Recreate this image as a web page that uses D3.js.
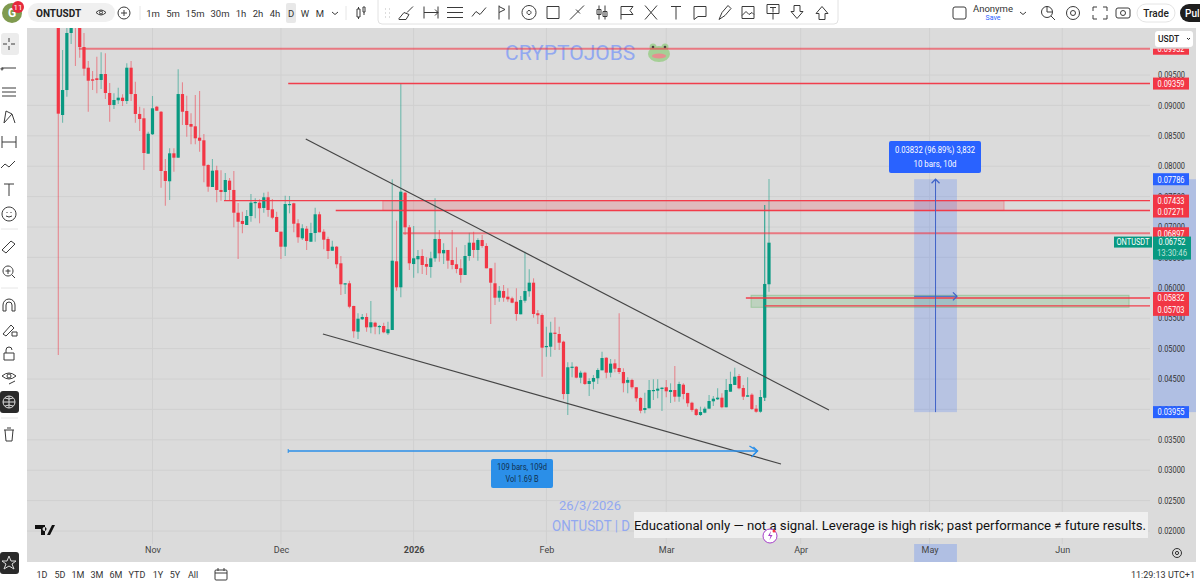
<!DOCTYPE html>
<html>
<head>
<meta charset="utf-8">
<title>ONTUSDT</title>
<script src="https://cdn.jsdelivr.net/npm/d3@7"></script>
<style>
  html, body { margin: 0; padding: 0; background: #fff; overflow: hidden; }
  text { font-family: Roboto, "Liberation Sans", sans-serif; }
</style>
</head>
<body>
<div id="chart"></div>
<script>
// prices are kept in ticks, 1 tick = 0.00001
const tickSize = 0.00001;

const opens = [10322,8842,9253,10191,10569,10405,9960,9620,9429,9446,9418,9516,9204,9007,9084,9127,9072,9620,9187,8859,8788,8206,8525,8979,8896,7921,7752,8212,8140,9187,8908,8694,8656,8469,8426,8020,7658,7933,7609,7576,7762,7609,7235,7099,7033,7181,7395,7400,7313,7489,7291,7165,6923,6676,7367,7390,7061,6814,6972,6758,6901,7209,6923,6803,6610,6676,6403,6063,6074,5701,5278,5482,5520,5350,5426,5360,5372,5252,5306,6436,6008,7564,6995,6391,6469,6523,6391,6342,6485,6803,6567,6622,6457,6387,6321,6211,6523,6742,6622,6786,6688,6321,6074,5837,5947,5854,5827,5771,5564,5788,5943,6084,5581,5553,5031,5031,5262,5240,5114,4253,4686,4702,4522,4604,4418,4456,4512,4643,4850,4604,4758,4681,4615,4439,4484,4364,4188,3990,4018,4308,4308,4336,4364,4286,4319,4209,4406,4270,4110,4002,3908,3946,4012,4133,4166,4193,4035,4291,4402,4549,4352,4209,4242,4012,3962,4192,6058];
const highs = [10405,9911,10405,10500,10600,10500,10191,9730,9566,9801,9873,9857,9368,9199,9291,9183,9692,9730,9390,8979,8952,8567,9155,8990,8908,8118,8294,8294,9594,9380,9160,8870,9171,9237,8530,8031,8118,8008,7933,7888,7806,7921,7395,7252,7280,7543,7472,7456,7564,7581,7461,7252,6923,7515,7510,7400,7127,7044,7017,7071,7318,7252,6962,6841,6775,6688,6523,6079,6117,5706,5581,5569,5581,5783,5443,5388,5426,5443,7785,7104,9352,7581,7033,7017,6622,6633,6502,6594,7472,6951,6732,6622,6951,6666,6469,6704,6906,6923,6814,6869,6732,6321,6413,6030,6046,5992,5854,5992,5865,6594,6304,6156,5635,5581,5360,5443,5515,5360,5130,4775,4775,4714,4637,4620,4512,4566,4676,4949,4857,4829,4824,5581,4676,4528,4505,4364,4199,4275,4484,4495,4495,4364,4484,4429,4714,4456,4429,4275,4127,4018,4045,4045,4237,4221,4347,4265,4500,4620,4686,4582,4402,4528,4265,4072,4319,7362,7789];
const lows = [4895,8715,9143,10010,9648,9785,9488,8896,9253,9199,9270,9105,8732,8941,9023,8990,9023,9072,8715,8579,7938,8206,8513,8908,7646,7351,7444,7910,8140,8678,8485,8360,8360,8239,7735,7581,7658,7406,7433,7433,7433,6995,6474,6896,7033,7087,7143,7061,7235,7170,7127,6918,6474,6523,7225,6913,6742,6786,6622,6758,6758,6913,6633,6474,6610,6321,5882,5898,5663,5179,5158,5470,5278,5252,5235,5235,5252,5224,5306,5952,5844,6869,6293,6166,6239,6227,6211,6166,6429,6429,6391,6314,6304,6239,6084,6211,6446,6495,6446,6660,6321,5405,5717,5771,5771,5771,5745,5459,5564,5755,5854,5508,5405,4538,4867,4867,4977,4977,4166,3908,4528,4512,4429,4402,4221,4331,4418,4643,4512,4528,4610,4582,4281,4265,4331,4127,3936,3936,4018,4155,4183,3974,4199,4106,4127,4127,4166,4045,3962,3892,3892,3936,4012,4056,4155,4018,4035,4291,4402,4331,4155,4209,3990,3946,3946,4138,5936];
const closes = [8864,9253,10191,10405,10372,9960,9604,9406,9406,9418,9516,9204,9007,9089,9127,9072,9620,9187,8859,8776,8217,8534,8952,8913,7921,7757,8212,8140,9187,8896,8678,8650,8459,8419,8008,7663,7926,7609,7576,7773,7609,7235,7087,7050,7181,7400,7411,7308,7489,7280,7153,6918,6676,7378,7378,7054,6831,6979,6770,6901,7209,6913,6791,6605,6676,6387,6058,6074,5689,5285,5492,5520,5350,5433,5360,5372,5268,5318,6446,6008,7581,6995,6403,6485,6523,6375,6347,6485,6803,6567,6622,6446,6375,6309,6211,6523,6742,6622,6786,6688,6321,6084,5837,5952,5837,5811,5755,5569,5799,5947,6084,5569,5548,5015,5043,5262,5252,5097,4253,4693,4702,4522,4604,4418,4467,4517,4648,4845,4604,4752,4669,4615,4430,4484,4364,4183,3979,4023,4319,4319,4341,4357,4298,4319,4209,4418,4253,4101,3990,3908,3957,4012,4138,4176,4193,4035,4319,4418,4538,4347,4209,4232,4007,3962,4204,6063,6742];

// month starts on the time axis, in bar numbers (first bar is 10 Oct)
const monthBars = [22, 52, 83, 114, 142, 173.4, 203.5, 234.5];
const monthLabels = ["Nov", "Dec", "2026", "Feb", "Mar", "Apr", "May", "Jun"];

const levelPrices = [0.09932, 0.09359, 0.07433, 0.07271, 0.06897, 0.05832, 0.05703];
const levelStartBars = [4.8, 53.7, 38.7, 64.8, 80.5, 160.6, 165];
const levelPale = [true, false, false, false, true, false, false];

const upperTrend = [[57.8, 0.08447], [180, 0.0399]];
const lowerTrend = [[61.8, 0.0524], [168.8, 0.03102]];

const width = 1200;
const height = 585;
const plotLeft = 27, plotRight = 1150, plotTop = 28, plotBottom = 544, paneBottom = 562, paneRight = 1196;

const red = "#f23645", green = "#089981", blue = "#2962ff", wm = "#92a8f0";

const x = d3.scaleLinear().domain([0, 166]).range([58.3, 769]);
const y = d3.scaleLinear().domain([0.02, 0.095]).range([531, 75]);

const svg = d3.select("#chart").append("svg")
    .attr("width", width)
    .attr("height", height)
    .style("display", "block");

svg.append("rect").attr("x", plotLeft).attr("y", plotTop)
    .attr("width", paneRight - plotLeft).attr("height", paneBottom - plotTop)
    .attr("fill", "#dbdbdb");

const defs = svg.append("defs");
defs.append("clipPath").attr("id", "plot").append("rect")
    .attr("x", plotLeft).attr("y", plotTop)
    .attr("width", plotRight - plotLeft).attr("height", plotBottom - plotTop);

const priceTicks = d3.range(4, 20).map(d => d * 0.005);

const plot = svg.append("g").attr("clip-path", "url(#plot)");

// grid
plot.selectAll(".hgrid").data(priceTicks).enter().append("line")
    .attr("x1", plotLeft).attr("x2", plotRight)
    .attr("y1", d => y(d)).attr("y2", d => y(d))
    .attr("stroke", "#d0d0d0");
plot.selectAll(".vgrid").data(monthBars).enter().append("line")
    .attr("x1", d => x(d)).attr("x2", d => x(d))
    .attr("y1", plotTop).attr("y2", plotBottom)
    .attr("stroke", "#d0d0d0");

// watermarks
plot.append("text").attr("x", 505).attr("y", 60).attr("font-size", 21).attr("fill", wm)
    .text("CRYPTOJOBS");
const frog = plot.append("g").attr("transform", "translate(659,53)");
frog.append("ellipse").attr("rx", 11).attr("ry", 8).attr("cy", 1).attr("fill", "#a5cf96");
frog.append("circle").attr("cx", -6).attr("cy", -6).attr("r", 3.5).attr("fill", "#a5cf96");
frog.append("circle").attr("cx", 6).attr("cy", -6).attr("r", 3.5).attr("fill", "#a5cf96");
frog.append("circle").attr("cx", -6).attr("cy", -6).attr("r", 1.3).attr("fill", "#444");
frog.append("circle").attr("cx", 6).attr("cy", -6).attr("r", 1.3).attr("fill", "#444");
frog.append("ellipse").attr("rx", 7).attr("ry", 2.5).attr("cy", 3).attr("fill", "#e58f8f");
plot.append("text").attr("x", 590).attr("y", 510).attr("text-anchor", "middle")
    .attr("font-size", 13).attr("fill", wm).text("26/3/2026");
plot.append("text").attr("x", 552).attr("y", 531).attr("font-size", 14).attr("fill", wm)
    .attr("textLength", 78).attr("lengthAdjust", "spacingAndGlyphs")
    .text("ONTUSDT | D");

// zones behind the candles
const longBars = [199.9, 209.9];
plot.append("rect").attr("x", x(longBars[0])).attr("width", x(longBars[1]) - x(longBars[0]))
    .attr("y", y(0.07786)).attr("height", y(0.03955) - y(0.07786))
    .attr("fill", blue).attr("fill-opacity", 0.2);

const zones = [
  { bars: [75.8, 220.9], prices: [0.07433, 0.07271], color: red, op: 0.2 },
  { bars: [161.8, 250.1], prices: [0.05877, 0.05679], color: "#4caf50", op: 0.2 }
];
plot.selectAll(".zone").data(zones).enter().append("rect")
    .attr("x", d => x(d.bars[0]))
    .attr("width", d => x(d.bars[1]) - x(d.bars[0]))
    .attr("y", d => y(d.prices[0]))
    .attr("height", d => y(d.prices[1]) - y(d.prices[0]))
    .attr("fill", d => d.color).attr("fill-opacity", d => d.op)
    .attr("stroke", d => d.color).attr("stroke-opacity", 0.35);

// candles
const bars = d3.range(opens.length);
const isUp = i => closes[i] >= opens[i];

plot.selectAll(".wick").data(bars).enter().append("line")
    .attr("x1", i => x(i)).attr("x2", i => x(i))
    .attr("y1", i => y(highs[i] * tickSize))
    .attr("y2", i => y(lows[i] * tickSize))
    .attr("stroke", i => isUp(i) ? green : red)
    .attr("stroke-opacity", i => i === 165 ? 0.85 : 0.5)
    .attr("stroke-width", 1.1);

plot.selectAll(".body").data(bars).enter().append("rect")
    .attr("x", i => x(i) - 1.6)
    .attr("width", 3.2)
    .attr("y", i => y(Math.max(opens[i], closes[i]) * tickSize))
    .attr("height", i => Math.max(1.2, Math.abs(y(opens[i] * tickSize) - y(closes[i] * tickSize))))
    .attr("fill", i => isUp(i) ? green : red);

// horizontal levels
plot.selectAll(".level").data(levelPrices).enter().append("line")
    .attr("x1", (d, i) => x(levelStartBars[i]))
    .attr("x2", plotRight)
    .attr("y1", d => y(d)).attr("y2", d => y(d))
    .attr("stroke", red)
    .attr("stroke-width", (d, i) => levelPale[i] ? 2 : 1.4)
    .attr("stroke-opacity", (d, i) => levelPale[i] ? 0.6 : 0.95);

// trend lines
[upperTrend, lowerTrend].forEach(t => {
  plot.append("line")
      .attr("x1", x(t[0][0])).attr("y1", y(t[0][1]))
      .attr("x2", x(t[1][0])).attr("y2", y(t[1][1]))
      .attr("stroke", "#454545").attr("stroke-width", 1.2);
});

// measure arrows
function arrowHead(g, px, py, dir, color) {
  const s = 4;
  const p = dir === "right"
    ? `M${px - s},${py - s}L${px},${py}L${px - s},${py + s}`
    : `M${px - s},${py + s}L${px},${py}L${px + s},${py + s}`;
  g.append("path").attr("d", p).attr("fill", "none").attr("stroke", color).attr("stroke-width", 1.2);
}

const longX = x((longBars[0] + longBars[1]) / 2);
plot.append("line").attr("x1", longX).attr("x2", longX).attr("y1", y(0.03955)).attr("y2", y(0.07786))
    .attr("stroke", "#3f63c8").attr("stroke-width", 1);
arrowHead(plot, longX, y(0.07786), "up", "#3f63c8");
const midY = y(0.0586);
plot.append("line").attr("x1", x(longBars[0])).attr("x2", x(longBars[1])).attr("y1", midY).attr("y2", midY)
    .attr("stroke", "#3f63c8").attr("stroke-width", 1);
arrowHead(plot, x(longBars[1]), midY, "right", "#3f63c8");

const rangeY = y(0.03316);
plot.append("line").attr("x1", x(53.7)).attr("x2", x(163.3)).attr("y1", rangeY).attr("y2", rangeY)
    .attr("stroke", "#2b8fe8").attr("stroke-width", 1.6);
plot.append("line").attr("x1", x(53.7)).attr("x2", x(53.7)).attr("y1", rangeY - 2).attr("y2", rangeY + 2)
    .attr("stroke", "#2b8fe8");
arrowHead(plot, x(163.3), rangeY, "right", "#2b8fe8");
plot.append("path")
    .attr("d", `M${x(163.3) - 8},${rangeY - 5}L${x(163.3)},${rangeY}L${x(163.3) - 6},${rangeY + 6}`)
    .attr("fill", "none").attr("stroke", "#2b8fe8").attr("stroke-width", 1.4);

function tooltip(bx, by, w, h, fill, color, lines, lineWidths) {
  plot.append("rect").attr("x", bx).attr("y", by).attr("width", w).attr("height", h)
      .attr("rx", 2).attr("fill", fill);
  lines.forEach((t, i) => {
    plot.append("text").attr("x", bx + w / 2).attr("y", by + h * (i === 0 ? 0.38 : 0.8))
        .attr("text-anchor", "middle").attr("font-size", 8.5).attr("fill", color)
        .attr("textLength", lineWidths[i]).attr("lengthAdjust", "spacingAndGlyphs").text(t);
  });
}
tooltip(889, 141, 92, 32, blue, "#fff", ["0.03832 (96.89%) 3,832", "10 bars, 10d"], [80, 43]);
tooltip(491, 459, 62, 29, "#2b8fe8", "#10304f", ["109 bars, 109d", "Vol 1.69 B"], [50, 33]);

// disclaimer
plot.append("rect").attr("x", 634).attr("y", 512).attr("width", 514).attr("height", 26)
    .attr("fill", "#efefef");
plot.append("text").attr("x", 634).attr("y", 530)
    .attr("font-size", 13.4).attr("fill", "#111")
    .attr("textLength", 512).attr("lengthAdjust", "spacingAndGlyphs")
    .text("Educational only — not a signal. Leverage is high risk; past performance ≠ future results.");

// TradingView logo
plot.append("path").attr("d", "M35,525h10v10h-4v-6h-6zM47,535l5,-10h3l-5,10zM44.500,527a2,2 0 1 0 .01,0")
    .attr("fill", "#111");

// axes
svg.append("rect").attr("x", 1153).attr("y", y(0.07786))
    .attr("width", paneRight - 1153).attr("height", y(0.03955) - y(0.07786))
    .attr("fill", "#b0bfe3");
svg.append("rect").attr("x", x(longBars[0])).attr("y", plotBottom)
    .attr("width", x(longBars[1]) - x(longBars[0])).attr("height", paneBottom - plotBottom)
    .attr("fill", "#b0bfe3");

const priceAxis = d3.axisRight(y).tickValues(priceTicks).tickSize(0).tickPadding(0)
    .tickFormat(d3.format(".5f"));
const priceG = svg.append("g").attr("transform", "translate(1158,0)").call(priceAxis);
priceG.select(".domain").remove();
priceG.selectAll("text").attr("font-size", 8.5).attr("fill", "#333").attr("font-family", "Roboto")
    .attr("textLength", 27).attr("lengthAdjust", "spacingAndGlyphs");

const timeAxis = d3.axisBottom(x).tickValues(monthBars).tickSize(0).tickPadding(0)
    .tickFormat((d, i) => monthLabels[i]);
const timeG = svg.append("g").attr("transform", "translate(0,547)").call(timeAxis);
timeG.select(".domain").remove();
timeG.selectAll("text").attr("font-size", 9).attr("fill", "#444").attr("font-family", "Roboto");
timeG.selectAll("text").filter((d, i) => monthLabels[i] === "2026").attr("font-weight", 700);

// price labels, the ones that would collide are pushed apart on the scale
function priceLabel(price, fill, shift) {
  const py = y(price) + (shift || 0);
  const g = svg.append("g");
  g.append("rect").attr("x", 1153).attr("y", py - 6).attr("width", 36).attr("height", 12).attr("fill", fill);
  g.append("text").attr("x", 1171).attr("y", py + 3.3).attr("text-anchor", "middle")
      .attr("font-size", 8.5).attr("fill", "#fff")
      .attr("textLength", 27).attr("lengthAdjust", "spacingAndGlyphs").text(price.toFixed(5));
}
defs.append("clipPath").attr("id", "topLabel").append("rect")
    .attr("x", 1150).attr("y", y(0.09932)).attr("width", 46).attr("height", 6);
svg.append("rect").attr("x", 1153).attr("y", y(0.09932)).attr("width", 36).attr("height", 6).attr("fill", red);
svg.append("text").attr("clip-path", "url(#topLabel)").attr("x", 1171).attr("y", y(0.09932) + 3.3)
    .attr("text-anchor", "middle").attr("font-size", 8.5).attr("fill", "#fff")
    .attr("textLength", 27).attr("lengthAdjust", "spacingAndGlyphs").text("0.09932");
const labelShifts = [0, 0, 0, 1, 0, 0, 4];
levelPrices.forEach((p, i) => { if (i > 0) priceLabel(p, red, labelShifts[i]); });
priceLabel(0.07786, blue);
priceLabel(0.03955, blue);

// last price
const lastPrice = 0.06752;
svg.append("rect").attr("x", 1114).attr("y", y(lastPrice) - 5.5).attr("width", 38).attr("height", 11).attr("fill", green);
svg.append("text").attr("x", 1133).attr("y", y(lastPrice) + 3).attr("text-anchor", "middle")
    .attr("font-size", 8.5).attr("fill", "#fff")
    .attr("textLength", 33).attr("lengthAdjust", "spacingAndGlyphs").text("ONTUSDT");
svg.append("rect").attr("x", 1153).attr("y", y(lastPrice) - 5.5).attr("width", 38).attr("height", 23).attr("fill", green);
svg.append("text").attr("x", 1172).attr("y", y(lastPrice) + 3).attr("text-anchor", "middle")
    .attr("font-size", 8.5).attr("fill", "#fff")
    .attr("textLength", 27).attr("lengthAdjust", "spacingAndGlyphs").text("0.06752");
svg.append("text").attr("x", 1172).attr("y", y(lastPrice) + 14).attr("text-anchor", "middle")
    .attr("font-size", 8.5).attr("fill", "#bfe3da")
    .attr("textLength", 30).attr("lengthAdjust", "spacingAndGlyphs").text("13:30:46");

// USDT selector
svg.append("rect").attr("x", 1155).attr("y", 31).attr("width", 38).attr("height", 16).attr("rx", 3).attr("fill", "#fff");
svg.append("text").attr("x", 1158).attr("y", 42).attr("font-size", 8.5).attr("font-weight", 500).attr("fill", "#222").text("USDT");
svg.append("path").attr("d", "M1187,38l1.500,1.500l1.500,-1.500").attr("fill", "none").attr("stroke", "#222");

// gear and lightning on the axes
svg.append("circle").attr("cx", 1177).attr("cy", 553).attr("r", 4.5).attr("fill", "none").attr("stroke", "#333");
svg.append("circle").attr("cx", 1177).attr("cy", 553).attr("r", 1.6).attr("fill", "none").attr("stroke", "#333");
svg.append("circle").attr("cx", 770).attr("cy", 536).attr("r", 7).attr("fill", "#fff").attr("stroke", "#a63fc9");
svg.append("path").attr("d", "M771,531l-3,5h2.500l-1,4l3,-5h-2.500z").attr("fill", "#a63fc9");
svg.append("circle").attr("cx", 774).attr("cy", 531).attr("r", 1.5).attr("fill", red);

// ---- app chrome ----
const iconStyle = s => s.attr("fill", "none").attr("stroke", "#3a3a3a").attr("stroke-width", 1);

function ui(tx, ty, size, label, opts) {
  const o = opts || {};
  return svg.append("text").attr("x", tx).attr("y", ty).attr("font-size", size)
      .attr("text-anchor", o.anchor || "middle")
      .attr("font-weight", o.weight || 400)
      .attr("fill", o.fill || "#333").text(label);
}

// top bar
svg.append("circle").attr("cx", 12).attr("cy", 13).attr("r", 10).attr("fill", "#7f9a4f");
ui(12, 17, 12, "G", { fill: "#fff", weight: 700 });
svg.append("circle").attr("cx", 18).attr("cy", 7).attr("r", 6).attr("fill", "#e5293d");
ui(18, 10, 8, "11", { fill: "#fff" });
svg.append("rect").attr("x", 28).attr("y", 3).attr("width", 87).attr("height", 19).attr("rx", 9.5).attr("fill", "#f0f0f0");
ui(36, 17, 10, "ONTUSDT", { anchor: "start", weight: 700, fill: "#222" });
svg.append("path").attr("d", "M96,12.500q5,-5 10,0q-5,5 -10,0zM99.500,12.500a1.500,1.500 0 1 0 3,0a1.500,1.500 0 1 0 -3,0").call(iconStyle);
svg.append("circle").attr("cx", 124).attr("cy", 13).attr("r", 6).call(iconStyle);
svg.append("path").attr("d", "M121,13h6M124,10v6").call(iconStyle);
svg.append("rect").attr("x", 286).attr("y", 3).attr("width", 10).attr("height", 20).attr("rx", 2).attr("fill", "#e8e8e8");

const timeframeLabels = ["1m", "5m", "15m", "30m", "1h", "2h", "4h", "D", "W", "M"];
const timeframeX = [153, 173, 195, 220, 241, 258, 275, 291, 305, 320];
timeframeLabels.forEach((t, i) => ui(timeframeX[i], 17, 9.5, t));
svg.append("path").attr("d", "M332,12l3,2.500l3,-2.500").call(iconStyle);
svg.append("path").attr("d", "M357,9h3v8h-3zM363,7h2v5h-2zM358.500,9v-2M358.500,17v2M364,12v3").call(iconStyle);
svg.append("line").attr("x1", 140).attr("x2", 140).attr("y1", 6).attr("y2", 20).attr("stroke", "#e6e6e6");
svg.append("line").attr("x1", 346).attr("x2", 346).attr("y1", 6).attr("y2", 20).attr("stroke", "#e6e6e6");

// floating drawing toolbar
svg.append("rect").attr("x", 378).attr("y", -4).attr("width", 460).attr("height", 28).attr("rx", 4)
    .attr("fill", "#fff").attr("stroke", "#e2e2e2");
const toolIcons = [
  "M-8,6l5,-6l5,2l-3,5h-7zM0,0l6,-6",
  "M-7,-6v12M7,-6v12M-7,0h14M4,-3l3,3l-3,3",
  "M-8,-5h16M-8,0h16M-8,5h16",
  "M-8,4l4,-5l4,3l6,-7",
  "M-6,-7v14M-6,-6l6,3l-6,3M4,-7v14",
  "M0,-7a7,7 0 1 0 .01,0M0,-2a2,2 0 1 0 .01,0",
  "M-6,-6h12v12h-12z",
  "M-7,7l14,-14M-1,-3l4,4",
  "M-3,-7v14M3,-7v14M-5,-3h4v5h-4zM1,-1h4v5h-4z",
  "M-6,7v-13h12l-3,4l3,4h-12",
  "M-6,-7l12,14M6,-7l-12,14",
  "M-5,-6h10M0,-6v13",
  "M-6,-6h12v10h-8l-4,3z",
  "M-6,7l3,-7l6,-7l3,3l-6,7z",
  "M-6,-6h12v12h-12zM-6,3l4,-4l3,3l3,-2l2,2",
  "M-6,-8h12v9h-12zM0,1v6M-3,-5h6M0,-5v5",
  "M-3,-7h6v6h3l-6,7l-6,-7h3z",
  "M-3,7h6v-6h3l-6,-7l-6,7h3z"
];
const toolX = [407, 431, 455, 480, 505, 529, 553, 577, 602, 627, 651, 676, 700, 725, 748, 773, 797, 822];
toolIcons.forEach((d, i) => {
  svg.append("path").attr("transform", `translate(${toolX[i]},12.500)`).attr("d", d).call(iconStyle);
});
svg.append("path").attr("d", "M385,9h1M389,9h1M385,13h1M389,13h1M385,17h1M389,17h1").attr("stroke", "#bbb").attr("fill", "none");

// top right
svg.append("rect").attr("x", 953).attr("y", 7).attr("width", 13).attr("height", 12).attr("rx", 2).call(iconStyle);
ui(993, 12, 9.5, "Anonyme");
ui(993, 20, 7, "Save", { fill: blue });
svg.append("path").attr("d", "M1020,12l3,2.500l3,-2.500").call(iconStyle);
svg.append("circle").attr("cx", 1047).attr("cy", 12).attr("r", 5.5).call(iconStyle);
svg.append("path").attr("d", "M1051,16l4,4M1047,6v6h5").call(iconStyle);
svg.append("circle").attr("cx", 1073).attr("cy", 13).attr("r", 6.500).call(iconStyle);
svg.append("circle").attr("cx", 1073).attr("cy", 13).attr("r", 2.500).call(iconStyle);
svg.append("path").attr("d", "M1093,11v-4h4M1103,7h4v4M1107,15v4h-4M1097,19h-4v-4").call(iconStyle);
svg.append("rect").attr("x", 1116).attr("y", 8).attr("width", 14).attr("height", 10).attr("rx", 2).call(iconStyle);
svg.append("circle").attr("cx", 1123).attr("cy", 13).attr("r", 2.500).call(iconStyle);
svg.append("rect").attr("x", 1137).attr("y", 4).attr("width", 38).attr("height", 18).attr("rx", 9).attr("fill", "#fff").attr("stroke", "#e4e4e4");
ui(1156, 17, 10, "Trade", { fill: "#222", weight: 500 });
svg.append("rect").attr("x", 1180).attr("y", 4).attr("width", 40).attr("height", 18).attr("rx", 9).attr("fill", "#1e1e1e");
ui(1185, 17, 10, "Pul", { anchor: "start", fill: "#fff", weight: 500 });

// left toolbar
svg.append("rect").attr("x", 1).attr("y", 33).attr("width", 18).attr("height", 22).attr("rx", 3).attr("fill", "#ececec");
const sideIcons = [
  "M-6,0h4M2,0h4M0,-6v4M0,2v4",
  "M-7,1h14M-7,1a1,1 0 1 0 .01,0",
  "M-7,-4h14M-7,0h14M-7,4h14",
  "M-5,6l2,-12l6,3l3,9M-5,6l8,-9",
  "M-7,-6v12M7,-6v12M-7,0h14",
  "M-8,3l4,-4l4,3l6,-6",
  "M-5,-6h10M0,-6v12",
  "M0,-7a7,7 0 1 0 .01,0M-2,-2v1M2,-2v1M-3,2q3,2 6,0",
  "M-7,4l9,-9l4,3l-9,9z",
  "M-1,-6a5,5 0 1 0 .01,0M-1,-3v5M-3.500,-1h5M3,3l3,3",
  "M-6,6v-6a6,6 0 0 1 12,0v6h-3v-6a3,3 0 0 0 -6,0v6z",
  "M-6,5l8,-9l3,3l-8,8zM3,3h5v4h-5z",
  "M-5,-1h10v7h-10zM-3,-1v-3a3,3 0 0 1 6,0",
  "M-7,-2q7,-6 14,0q-7,6 -14,0zM-2,-2a2,2 0 1 0 4,0a2,2 0 1 0 -4,0M0,6l6,-3"
];
const sideY = [44, 67, 92, 117, 142, 165, 190, 214, 246, 272, 305, 329, 354, 378];
sideIcons.forEach((d, i) => {
  svg.append("path").attr("transform", `translate(9,${sideY[i]})`).attr("d", d).call(iconStyle);
});
svg.append("line").attr("x1", 1).attr("x2", 18).attr("y1", 229).attr("y2", 229).attr("stroke", "#e6e6e6");
svg.append("line").attr("x1", 1).attr("x2", 18).attr("y1", 288).attr("y2", 288).attr("stroke", "#e6e6e6");
svg.append("line").attr("x1", 1).attr("x2", 18).attr("y1", 418).attr("y2", 418).attr("stroke", "#e6e6e6");
svg.append("rect").attr("x", 0).attr("y", 391).attr("width", 19).attr("height", 22).attr("rx", 3).attr("fill", "#2a2a2a");
svg.append("circle").attr("cx", 9).attr("cy", 402).attr("r", 6).attr("fill", "none").attr("stroke", "#ddd");
svg.append("path").attr("d", "M3,402h12M9,396v12M5,398q4,2 8,0M5,406q4,-2 8,0").attr("fill", "none").attr("stroke", "#ddd");
svg.append("path").attr("transform", "translate(9,435)").attr("d", "M-5,-5h10M-4,-5l1,11h6l1,-11M-2,-7h4").call(iconStyle);
svg.append("rect").attr("x", 0).attr("y", 552).attr("width", 19).attr("height", 22).attr("rx", 3).attr("fill", "#2a2a2a");
svg.append("path").attr("d", "M9,556l2,5h5l-4,3l2,5l-5,-3l-5,3l2,-5l-4,-3h5z").attr("fill", "none").attr("stroke", "#ddd");

// bottom bar
const rangeLabels = ["1D", "5D", "1M", "3M", "6M", "YTD", "1Y", "5Y", "All"];
const rangeX = [42, 60, 78, 97, 116, 137, 158, 175, 193];
rangeLabels.forEach((t, i) => ui(rangeX[i], 578, 9, t));
svg.append("rect").attr("x", 215).attr("y", 570).attr("width", 12).attr("height", 10).attr("rx", 1).call(iconStyle);
svg.append("path").attr("d", "M215,573h12M218,568v3M224,568v3").call(iconStyle);
ui(1195, 578, 9, "11:29:13 UTC+1", { anchor: "end" });
</script>
</body>
</html>
